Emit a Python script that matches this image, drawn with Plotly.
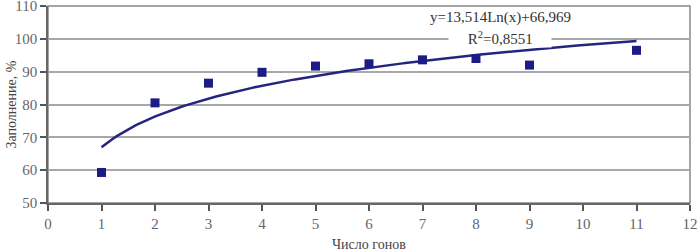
import numpy as np
import plotly.graph_objects as go

# Data
x_vals = [1, 2, 3, 4, 5, 6, 7, 8, 9, 11]
y_vals = [59.3, 80.5, 86.5, 89.8, 91.7, 92.4, 93.6, 94.0, 92.0, 96.5]

# Logarithmic trendline coefficients shown on the chart
trend_a = 13.514
trend_b = 66.969
r_squared = "0,8551"

x_ticks = list(range(0, 13))
y_ticks = [50, 60, 70, 80, 90, 100, 110]

xt = np.linspace(1, 11, 200)
yt = trend_a * np.log(xt) + trend_b

font_family = "Liberation Serif, Times New Roman, serif"
nb = "&nbsp;" * 5

fig = go.Figure()
fig.add_trace(go.Scatter(
    x=xt, y=yt, mode="lines",
    line=dict(color="#25257f", width=2.5),
    hoverinfo="skip", showlegend=False,
))
fig.add_trace(go.Scatter(
    x=x_vals, y=y_vals, mode="markers",
    marker=dict(symbol="square", size=9, color="#1c1c86"),
    showlegend=False,
))

# Trendline labels
fig.add_annotation(
    x=8.45, y=100.3, xref="x", yref="y",
    text=nb + "R<sup>2</sup>=" + r_squared + nb,
    showarrow=False, align="center",
    font=dict(family=font_family, size=15, color="#333333"),
    bgcolor="white", borderpad=0,
)
fig.add_annotation(
    x=8.45, y=106.6, xref="x", yref="y",
    text="y=%sLn(x)+%s" % (str(trend_a).replace(".", ","), str(trend_b).replace(".", ",")),
    showarrow=False, align="center",
    font=dict(family=font_family, size=15, color="#333333"),
)
# Axis titles
fig.add_annotation(
    x=0.5, y=0, xref="paper", yref="paper", text="Число гонов",
    xanchor="center", yanchor="top", yshift=-32,
    showarrow=False, font=dict(family=font_family, size=14, color="#444444"),
)
fig.add_annotation(
    x=0, y=0.5, xref="paper", yref="paper", text="Заполнение, %",
    xanchor="center", yanchor="middle", xshift=-37, textangle=-90,
    showarrow=False, font=dict(family=font_family, size=14, color="#444444"),
)

fig.update_layout(
    width=700, height=251,
    margin=dict(l=48, r=10, t=6, b=48, autoexpand=False),
    paper_bgcolor="white", plot_bgcolor="white",
    font=dict(family=font_family, size=15, color="#666666"),
)
fig.update_xaxes(
    range=[0, 12], tickvals=x_ticks, ticks="outside", ticklen=6,
    tickcolor="#555555", tickwidth=1.5, automargin=False,
    ticklabeloverflow="allow",
    showline=True, linecolor="#666666", linewidth=1.5, mirror=False,
    showgrid=False, zeroline=False,
)
fig.update_yaxes(
    range=[50, 110], tickvals=y_ticks, ticks="outside", ticklen=6,
    tickcolor="#555555", tickwidth=1.5, automargin=False,
    ticklabeloverflow="allow",
    showline=True, linecolor="#666666", linewidth=1.5,
    showgrid=True, gridcolor="#a8a8a8", gridwidth=1.5, zeroline=False,
)
# Plot area border (top and right)
fig.add_shape(type="rect", xref="paper", yref="paper", x0=0, y0=0, x1=1, y1=1,
              line=dict(color="#888888", width=1.5), layer="below")

fig.write_html("out.html", config={"displayModeBar": False},
               post_script="document.body.style.margin='0';")
